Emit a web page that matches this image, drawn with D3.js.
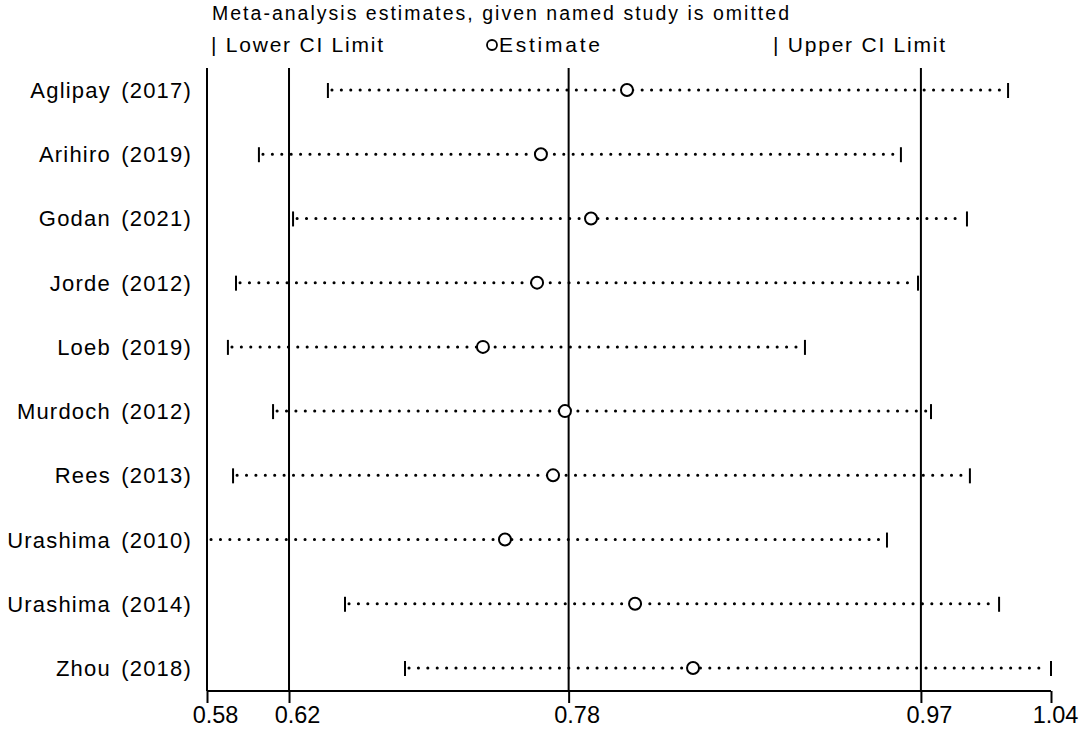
<!DOCTYPE html>
<html><head><meta charset="utf-8">
<script src="https://cdn.jsdelivr.net/npm/d3@7"></script>
<style>body{margin:0;background:#fff}svg{display:block}text{font-family:Arial,"Liberation Sans",sans-serif;fill:#000}</style>
</head><body><svg id="c" width="1084" height="729"></svg>
<script>
const studies = ["Aglipay (2017)","Arihiro (2019)","Godan (2021)","Jorde (2012)","Loeb (2019)","Murdoch (2012)","Rees (2013)","Urashima (2010)","Urashima (2014)","Zhou (2018)"];
const lower = [0.6459,0.6083,0.6269,0.5958,0.5914,0.6160,0.5942,0.5800,0.6552,0.6879];
const estimate = [0.8089,0.7620,0.7893,0.7599,0.7304,0.7751,0.7686,0.7424,0.8133,0.8449];
const upper = [1.0166,0.9582,0.9942,0.9675,0.9059,0.9746,0.9958,0.9506,1.0117,1.0400];
const tickValues = [0.58,0.6247,0.7771,0.9691,1.04];
const refLines = [0.58,0.6247,0.7771,0.9691];
const title = "Meta-analysis estimates, given named study is omitted";
const legendLabels = ["| Lower CI Limit","Estimate","| Upper CI Limit"];

const svg = d3.select("#c");
const x = d3.scaleLinear().domain([0.58,1.04]).range([207,1051]);
const y = d3.scalePoint().domain(studies).range([90,668]);
const axisY = 691, topY = 68;

// title & legend
svg.append("text").attr("x",212).attr("y",20).attr("font-size",19.5)
  .attr("textLength",577).attr("lengthAdjust","spacing").text(title);
svg.append("text").attr("x",211).attr("y",52).attr("font-size",21)
  .attr("textLength",172).attr("lengthAdjust","spacing").text(legendLabels[0]);
svg.append("circle").attr("cx",492).attr("cy",45).attr("r",5).attr("fill","none").attr("stroke","#000").attr("stroke-width",1.8);
svg.append("text").attr("x",499).attr("y",52).attr("font-size",21)
  .attr("textLength",101).attr("lengthAdjust","spacing").text(legendLabels[1]);
svg.append("text").attr("x",773).attr("y",52).attr("font-size",21)
  .attr("textLength",172).attr("lengthAdjust","spacing").text(legendLabels[2]);

// reference lines
svg.append("g").selectAll("line").data(refLines).join("line")
  .attr("x1",d=>x(d)).attr("x2",d=>x(d)).attr("y1",topY).attr("y2",axisY)
  .attr("stroke","#000").attr("stroke-width",2);

// axis
const axis = d3.axisBottom(x).tickValues(tickValues).tickFormat(d3.format(".2f")).tickSize(12);
const ga = svg.append("g").attr("transform",`translate(0,${axisY})`).call(axis);
ga.select(".domain").attr("stroke","#000").attr("stroke-width",2).attr("d",`M${x(0.58)},0H${x(1.04)}`);
ga.selectAll(".tick line").attr("stroke","#000").attr("stroke-width",2);
ga.selectAll(".tick text").attr("font-size",23.5).style("font-family","Arial,'Liberation Sans',sans-serif")
  .attr("fill","#000").attr("y",32).attr("dy",0).attr("dx",(d,i)=>i===tickValues.length-1?4:8);

// study labels
svg.append("g").selectAll("text").data(studies).join("text")
  .attr("x",192).attr("y",d=>y(d)+8).attr("text-anchor","end").attr("font-size",22)
  .style("letter-spacing","1.2px").style("word-spacing","3px").text(d=>d);

// CI lines
const rows = studies.map((s,i)=>({s,lo:lower[i],est:estimate[i],hi:upper[i]}));
const g = svg.append("g");
g.selectAll("line.ci").data(rows).join("line").attr("class","ci")
  .attr("x1",d=>x(d.lo)+4).attr("x2",d=>x(d.hi)-3).attr("y1",d=>y(d.s)).attr("y2",d=>y(d.s))
  .attr("stroke","#000").attr("stroke-width",3).attr("stroke-linecap","round").attr("stroke-dasharray","0.1 9.3");
g.selectAll("line.lo").data(rows).join("line").attr("class","lo")
  .attr("x1",d=>x(d.lo)).attr("x2",d=>x(d.lo)).attr("y1",d=>y(d.s)-7).attr("y2",d=>y(d.s)+8)
  .attr("stroke","#000").attr("stroke-width",2);
g.selectAll("line.hi").data(rows).join("line").attr("class","hi")
  .attr("x1",d=>x(d.hi)).attr("x2",d=>x(d.hi)).attr("y1",d=>y(d.s)-7).attr("y2",d=>y(d.s)+8)
  .attr("stroke","#000").attr("stroke-width",2);
g.selectAll("circle").data(rows).join("circle")
  .attr("cx",d=>x(d.est)).attr("cy",d=>y(d.s)).attr("r",6)
  .attr("fill","#fff").attr("stroke","#000").attr("stroke-width",2);
</script></body></html>
